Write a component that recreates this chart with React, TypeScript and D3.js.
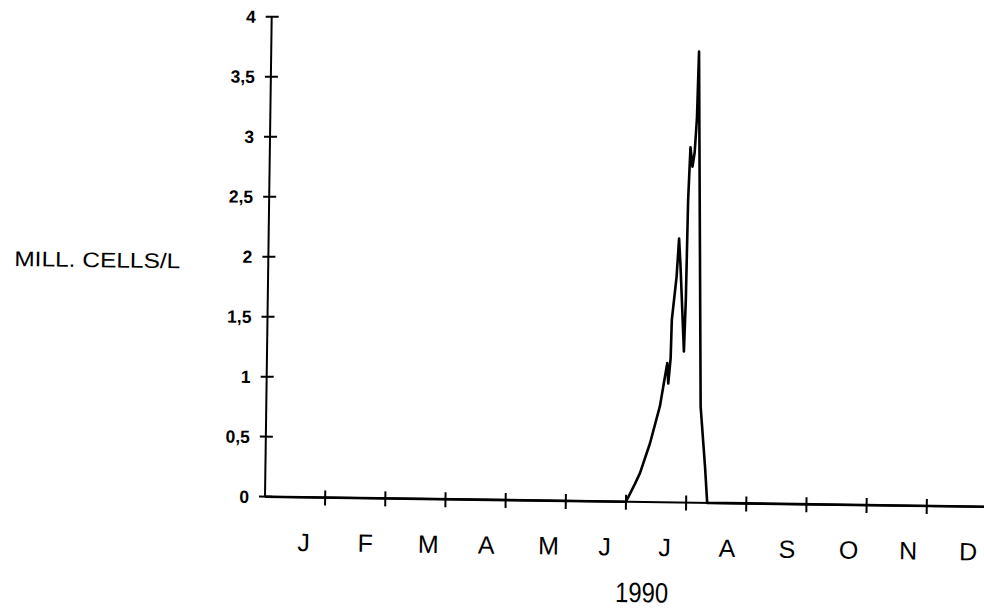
import React, { useEffect, useRef } from 'react'
import * as d3 from 'd3'

const monthLabels = ['J', 'F', 'M', 'A', 'M', 'J', 'J', 'A', 'S', 'O', 'N', 'D']
const yTicks = [0, 0.5, 1, 1.5, 2, 2.5, 3, 3.5, 4]
const yTickLabels = ['0', '0,5', '1', '1,5', '2', '2,5', '3', '3,5', '4']
const yLabel = 'MILL. CELLS/L'
const xLabel = '1990'

// time in months since 1 Jan 1990
const sampleTime = [
  0, 6, 6.145, 6.226, 6.386, 6.542, 6.592, 6.654, 6.675, 6.709, 6.72, 6.789, 6.822, 6.852,
  6.928, 6.948, 6.963, 6.99, 7.028, 7.061, 7.091, 7.11, 7.219, 7.306, 7.35, 12,
]
// million cells per litre
const cellCount = [
  0, 0, 0.15, 0.24, 0.49, 0.8, 0.96, 1.16, 0.99, 1.2, 1.52, 1.88, 2.2, 1.97,
  1.26, 1.69, 2.52, 2.96, 2.8, 2.92, 3.21, 3.76, 0.8, 0.3, 0, 0,
]

const App = () => {
  const ref = useRef<SVGSVGElement>(null)

  useEffect(() => {
    const svg = d3.select(ref.current)
    svg.selectAll('*').remove()

    const x = d3.scaleLinear().domain([0, 12]).range([265, 987])
    const y = d3.scaleLinear().domain([0, 4]).range([496.7, 16.7])
    const data = sampleTime.map((t, i) => ({ t, v: cellCount[i] }))

    // the scanned figure is slightly tilted
    const g = svg.append('g').attr('transform', `rotate(0.8, ${x(0)}, ${y(0)})`)

    g // yaxis
      .append('line')
      .attr('x1', x(0))
      .attr('x2', x(0))
      .attr('y1', y(0))
      .attr('y2', y(4))
      .attr('stroke', '#000')
      .attr('stroke-width', 2)

    g.selectAll('.ytick')
      .data(yTicks)
      .join('line')
      .attr('x1', x(0) - 6)
      .attr('x2', x(0) + 7)
      .attr('y1', d => y(d))
      .attr('y2', d => y(d))
      .attr('stroke', '#000')
      .attr('stroke-width', 2)

    g.selectAll('.ylab')
      .data(yTicks)
      .join('text')
      .text((d, i) => yTickLabels[i])
      .attr('x', x(0) - 16)
      .attr('y', d => y(d))
      .attr('dy', '0.36em')
      .attr('text-anchor', 'end')
      .attr('font-family', 'Liberation Sans, Arial, sans-serif')
      .attr('font-weight', 'bold')
      .attr('font-size', '17.5px')

    g // xaxis
      .append('line')
      .attr('x1', x(0))
      .attr('x2', x(12))
      .attr('y1', y(0))
      .attr('y2', y(0))
      .attr('stroke', '#000')
      .attr('stroke-width', 2)

    g.selectAll('.xtick')
      .data(d3.range(1, 12))
      .join('line')
      .attr('x1', d => x(d))
      .attr('x2', d => x(d))
      .attr('y1', y(0) - 7)
      .attr('y2', y(0) + 8)
      .attr('stroke', '#000')
      .attr('stroke-width', 2)

    g.selectAll('.month')
      .data(monthLabels)
      .join('text')
      .text(d => d)
      .attr('x', (d, i) => x(i + 0.55))
      .attr('y', 550.5)
      .attr('font-family', 'Liberation Sans, Arial, sans-serif')
      .attr('font-size', '25px')

    g // xlab
      .append('text')
      .text(xLabel)
      .attr('x', 643)
      .attr('y', 597)
      .attr('text-anchor', 'middle')
      .attr('font-family', 'Liberation Sans, Arial, sans-serif')
      .attr('font-size', '28px')
      .attr('textLength', 53)
      .attr('lengthAdjust', 'spacingAndGlyphs')

    g // ylab
      .append('text')
      .text(yLabel)
      .attr('x', 11)
      .attr('y', 269.5)
      .attr('font-family', 'Liberation Sans, Arial, sans-serif')
      .attr('font-size', '21px')
      .attr('textLength', 166)
      .attr('lengthAdjust', 'spacingAndGlyphs')

    const line = d3
      .line<{ t: number; v: number }>()
      .x(d => x(d.t))
      .y(d => y(d.v))

    g.append('path')
      .datum(data)
      .attr('d', line)
      .attr('fill', 'none')
      .attr('stroke', '#000')
      .attr('stroke-width', 2.6)
      .attr('stroke-linejoin', 'round')
  }, [])

  return (
    <svg
      ref={ref}
      width={984}
      height={610}
      style={{ position: 'absolute', left: 0, top: 0, background: '#fff' }}
    />
  )
}

export default App
